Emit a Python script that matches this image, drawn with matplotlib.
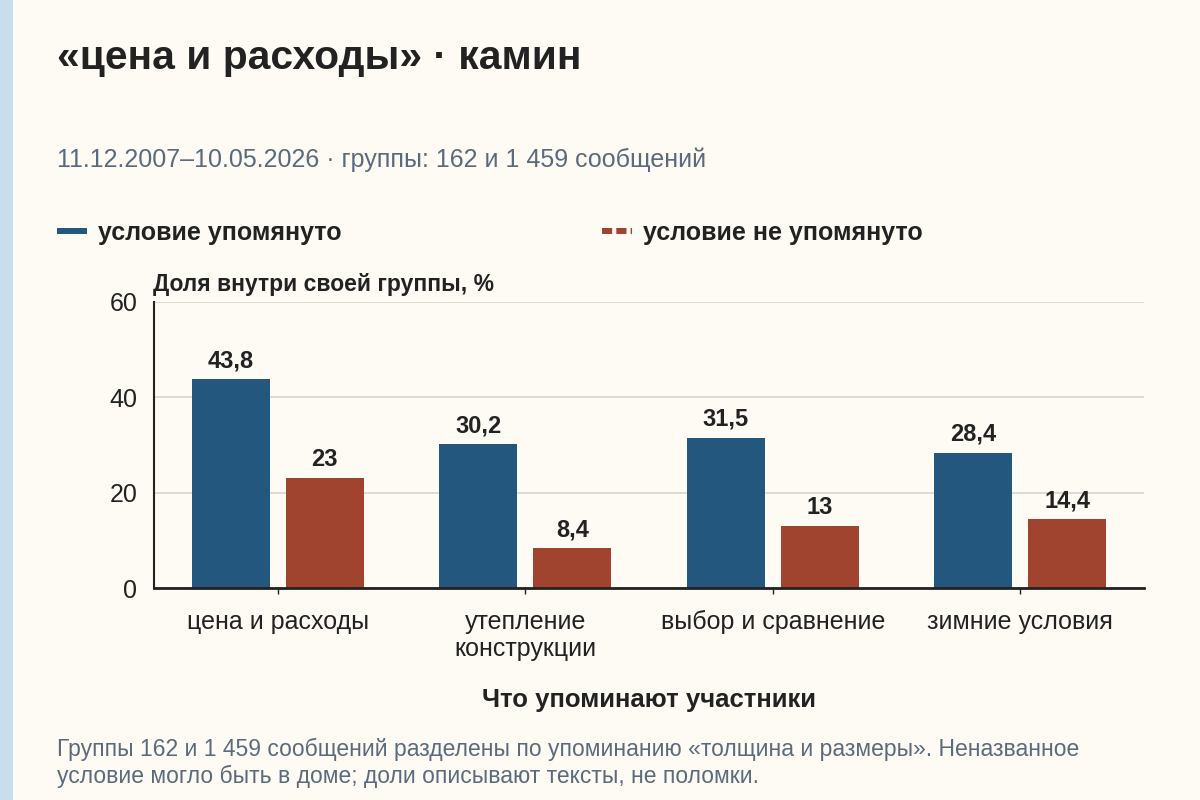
import numpy as np
import matplotlib
matplotlib.use("Agg")
from matplotlib import pyplot as plt
from matplotlib.lines import Line2D
from matplotlib.patches import Rectangle

plt.rcParams['font.family'] = ['Liberation Sans', 'DejaVu Sans']

# data
categories = ['цена и расходы', 'утепление\nконструкции', 'выбор и сравнение', 'зимние условия']
mentioned = [43.8, 30.2, 31.5, 28.4]
not_mentioned = [23.0, 8.4, 13.0, 14.4]
series_names = ['условие упомянуто', 'условие не упомянуто']
yticks = [0, 20, 40, 60]

title = '«цена и расходы» · камин'
subtitle = '11.12.2007–10.05.2026 · группы: 162 и 1 459 сообщений'
ylabel = 'Доля внутри своей группы, %'
xlabel = 'Что упоминают участники'
note1 = 'Группы 162 и 1 459 сообщений разделены по упоминанию «толщина и размеры». Неназванное'
note2 = 'условие могло быть в доме; доли описывают тексты, не поломки.'

bg = '#fdfbf4'
blue = '#23577e'
red = '#a0442f'
ink = '#222222'
muted = '#5b6b7c'

fig = plt.figure(figsize=(12, 8), dpi=100)
fig.patch.set_facecolor(bg)
# light strip on the left edge
fig.add_artist(Rectangle((0, 0), 13 / 1200, 1, transform=fig.transFigure,
                         facecolor='#c9ddec', edgecolor='none'))

ax = fig.add_axes([154 / 1200, 1 - 588 / 800, 990 / 1200, 286 / 800])
ax.set_facecolor(bg)

x = np.arange(len(categories))
w = 0.315
off = 0.19
b1 = ax.bar(x - off, mentioned, w, color=blue, zorder=3)
b2 = ax.bar(x + off, not_mentioned, w, color=red, zorder=3)

def fmt(v):
    s = ('%.1f' % v).replace('.', ',')
    return s[:-2] if s.endswith(',0') else s

for bars, vals in ((b1, mentioned), (b2, not_mentioned)):
    for rect, v in zip(bars, vals):
        ax.annotate(fmt(v), (rect.get_x() + rect.get_width() / 2, v),
                    xytext=(0, 5), textcoords='offset points',
                    ha='center', va='bottom', fontsize=17, fontweight='bold', color=ink)

ax.set_xlim(-0.5, len(categories) - 0.5)
ax.set_ylim(0, 60)
ax.set_yticks(yticks)
ax.set_xticks(x)
ax.set_xticklabels(categories)
ax.tick_params(axis='y', length=0, pad=12, labelsize=18, labelcolor=ink)
ax.tick_params(axis='x', length=4, width=1, color=ink, pad=12, labelsize=18, labelcolor=ink)
for lbl in ax.get_xticklabels():
    lbl.set_linespacing(1.15)
ax.grid(axis='y', color='#d8d5ce', linewidth=1.2, zorder=0)
for s in ('top', 'right'):
    ax.spines[s].set_visible(False)
ax.spines['left'].set_color(ink)
ax.spines['left'].set_linewidth(1.5)
ax.spines['bottom'].set_color(ink)
ax.spines['bottom'].set_linewidth(2)
ax.spines['bottom'].set_zorder(4)

fig.text(153 / 1200, 1 - 285 / 800, ylabel, ha='left', va='center',
         fontsize=16.5, fontweight='bold', color=ink)
fig.text(649 / 1200, 1 - 700 / 800, xlabel, ha='center', va='center',
         fontsize=18.5, fontweight='bold', color=ink)

fig.text(57 / 1200, 1 - 58 / 800, title, ha='left', va='center',
         fontsize=29.3, fontweight='bold', color=ink)
fig.text(57 / 1200, 1 - 160 / 800, subtitle, ha='left', va='center',
         fontsize=18, color=muted)
fig.text(57 / 1200, 1 - 749 / 800, note1, ha='left', va='center',
         fontsize=16.5, color=muted)
fig.text(57 / 1200, 1 - 776 / 800, note2, ha='left', va='center',
         fontsize=16.5, color=muted)

# legend
handles = [Line2D([], [], color=blue, linewidth=4.3, solid_capstyle='butt'),
           Line2D([], [], color=red, linewidth=4.3, dashes=(1.7, 0.7), dash_capstyle='butt')]
leg = fig.legend(handles, series_names, loc='center left', bbox_to_anchor=(57 / 1200, 1 - 233 / 800),
                 ncol=2, frameon=False, borderpad=0, borderaxespad=0,
                 handlelength=1.2, handletextpad=0.44,
                 columnspacing=10.4, prop={'size': 18, 'weight': 'bold'})
for t in leg.get_texts():
    t.set_color(ink)

fig.savefig('out.png', dpi=100, facecolor=bg)
